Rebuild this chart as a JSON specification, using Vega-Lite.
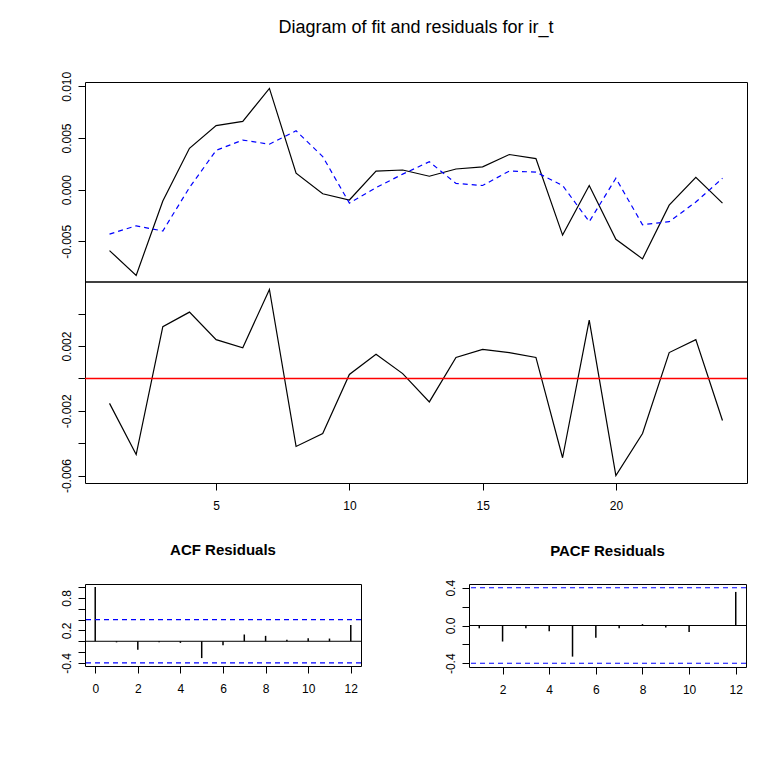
{
  "$schema": "https://vega.github.io/schema/vega-lite/v6.json",
  "background": "white",
  "padding": {"left": 59, "top": 18, "right": 19, "bottom": 5},
  "config": {
    "font": "Liberation Sans",
    "view": {"stroke": "black", "strokeWidth": 1},
    "axis": {"grid": false, "domain": false, "tickColor": "black", "tickSize": 7, "tickWidth": 1, "tickCount": 30, "labelColor": "black", "labelFontSize": 12, "labelFont": "Liberation Sans", "labelFlush": false, "labelOverlap": false, "labelBound": false},
    "axisY": {"labelAngle": -90, "labelAlign": "center", "labelBaseline": "bottom", "labelPadding": 5},
    "axisX": {"labelPadding": 10, "labelAngle": 0},
    "title": {"font": "Liberation Sans", "color": "black"}
  },
  "datasets": {
    "fit": [
      {"t": 1, "actual": -0.0059, "fitted": -0.0043, "resid": -0.00154},
      {"t": 2, "actual": -0.0083, "fitted": -0.0035, "resid": -0.0047},
      {"t": 3, "actual": -0.0011, "fitted": -0.0040, "resid": 0.0032},
      {"t": 4, "actual": 0.0040, "fitted": 0.0002, "resid": 0.0041},
      {"t": 5, "actual": 0.0062, "fitted": 0.0038, "resid": 0.0024},
      {"t": 6, "actual": 0.0066, "fitted": 0.0048, "resid": 0.0019},
      {"t": 7, "actual": 0.0098, "fitted": 0.0044, "resid": 0.0055},
      {"t": 8, "actual": 0.0016, "fitted": 0.0057, "resid": -0.0042},
      {"t": 9, "actual": -0.0004, "fitted": 0.0032, "resid": -0.0034},
      {"t": 10, "actual": -0.0010, "fitted": -0.0013, "resid": 0.00025},
      {"t": 11, "actual": 0.0018, "fitted": 0.0002, "resid": 0.0015},
      {"t": 12, "actual": 0.0019, "fitted": 0.0015, "resid": 0.0003},
      {"t": 13, "actual": 0.0013, "fitted": 0.0027, "resid": -0.00145},
      {"t": 14, "actual": 0.0020, "fitted": 0.0006, "resid": 0.0013},
      {"t": 15, "actual": 0.0022, "fitted": 0.0004, "resid": 0.0018},
      {"t": 16, "actual": 0.0034, "fitted": 0.0018, "resid": 0.0016},
      {"t": 17, "actual": 0.0030, "fitted": 0.0017, "resid": 0.0013},
      {"t": 18, "actual": -0.0044, "fitted": 0.0004, "resid": -0.0049},
      {"t": 19, "actual": 0.0004, "fitted": -0.0031, "resid": 0.0036},
      {"t": 20, "actual": -0.0048, "fitted": 0.0011, "resid": -0.0060},
      {"t": 21, "actual": -0.0067, "fitted": -0.0034, "resid": -0.0034},
      {"t": 22, "actual": -0.0015, "fitted": -0.0031, "resid": 0.0016},
      {"t": 23, "actual": 0.0012, "fitted": -0.0012, "resid": 0.0024},
      {"t": 24, "actual": -0.0013, "fitted": 0.0011, "resid": -0.0026}
    ],
    "acf": [
      {"lag": 0, "acf": 1.0},
      {"lag": 1, "acf": -0.02},
      {"lag": 2, "acf": -0.156},
      {"lag": 3, "acf": -0.02},
      {"lag": 4, "acf": -0.03},
      {"lag": 5, "acf": -0.31},
      {"lag": 6, "acf": -0.075},
      {"lag": 7, "acf": 0.125},
      {"lag": 8, "acf": 0.10},
      {"lag": 9, "acf": 0.03},
      {"lag": 10, "acf": 0.056},
      {"lag": 11, "acf": 0.05},
      {"lag": 12, "acf": 0.30}
    ],
    "pacf": [
      {"lag": 1, "pacf": -0.03},
      {"lag": 2, "pacf": -0.17},
      {"lag": 3, "pacf": -0.03},
      {"lag": 4, "pacf": -0.06},
      {"lag": 5, "pacf": -0.33},
      {"lag": 6, "pacf": -0.13},
      {"lag": 7, "pacf": -0.03},
      {"lag": 8, "pacf": 0.015},
      {"lag": 9, "pacf": -0.02},
      {"lag": 10, "pacf": -0.07},
      {"lag": 11, "pacf": 0.003},
      {"lag": 12, "pacf": 0.356}
    ],
    "zero": [{"h": 0}],
    "clim": [{"h": 0.4}, {"h": -0.4}]
  },
  "spacing": 30,
  "vconcat": [
    {
      "width": 662,
      "height": 401,
      "title": {"text": "Diagram of fit and residuals for ir_t", "fontSize": 18, "fontWeight": "normal", "anchor": "middle", "offset": 34},
      "resolve": {"scale": {"y": "independent"}, "axis": {"y": "independent"}},
      "layer": [
        {
          "layer": [
            {
              "data": {"name": "fit"},
              "mark": {"type": "line", "color": "black", "strokeWidth": 1.2},
              "encoding": {
                "x": {"field": "t", "type": "quantitative", "scale": {"domain": [0.08, 24.92], "nice": false, "zero": false},
                      "axis": {"title": null, "tickCount": 30, "labelOverlap": false, "values": [5, 10, 15, 20], "format": "d"}},
                "y": {"field": "actual", "type": "quantitative", "scale": {"domain": [-0.028397, 0.01042], "nice": false, "zero": false},
                      "axis": {"title": null, "orient": "left", "offset": 0, "tickCount": 30, "labelOverlap": false, "values": [-0.005, 0, 0.005, 0.01], "labelExpr": "replace(format(datum.value, '.3f'), '\u2212', '-')"}}
              }
            },
            {
              "data": {"name": "fit"},
              "mark": {"type": "line", "color": "#0000ff", "strokeWidth": 1.2, "strokeDash": [5, 4]},
              "encoding": {
                "x": {"field": "t", "type": "quantitative"},
                "y": {"field": "fitted", "type": "quantitative"}
              }
            },
            {
              "data": {"name": "zero"},
              "mark": {"type": "rule", "color": "black", "strokeWidth": 1.5},
              "encoding": {"y": {"datum": -0.00894, "type": "quantitative"}}
            }
          ]
        },
        {
          "layer": [
            {
              "data": {"name": "fit"},
              "mark": {"type": "line", "color": "black", "strokeWidth": 1.2},
              "encoding": {
                "x": {"field": "t", "type": "quantitative"},
                "y": {"field": "resid", "type": "quantitative", "scale": {"domain": [-0.00646, 0.018318], "nice": false, "zero": false},
                      "axis": {"title": null, "orient": "left", "offset": 0, "tickCount": 30, "labelOverlap": false, "values": [-0.006, -0.004, -0.002, 0, 0.002, 0.004],
                               "labelExpr": "(round(datum.value*1000) == -6 || round(datum.value*1000) == -2 || round(datum.value*1000) == 2) ? replace(format(datum.value, '.3f'), '\u2212', '-') : ''"}}
              }
            },
            {
              "data": {"name": "zero"},
              "mark": {"type": "rule", "color": "#ff0000", "strokeWidth": 1.5},
              "encoding": {"y": {"field": "h", "type": "quantitative"}}
            }
          ]
        }
      ]
    },
    {
      "spacing": 80,
      "hconcat": [
        {
          "width": 276,
          "height": 82,
          "title": {"text": "ACF Residuals", "fontSize": 15, "fontWeight": "bold", "anchor": "middle", "offset": 26},
          "layer": [
            {
              "data": {"name": "acf"},
              "mark": {"type": "rule", "color": "black", "strokeWidth": 1.5},
              "encoding": {
                "x": {"field": "lag", "type": "quantitative", "scale": {"domain": [-0.48, 12.48], "nice": false, "zero": false},
                      "axis": {"title": null, "tickCount": 30, "labelOverlap": false, "values": [0, 2, 4, 6, 8, 10, 12], "format": "d"}},
                "y": {"field": "acf", "type": "quantitative", "scale": {"domain": [-0.456, 1.056], "nice": false, "zero": false},
                      "axis": {"title": null, "tickCount": 30, "labelOverlap": false, "values": [-0.4, -0.2, 0, 0.2, 0.4, 0.6, 0.8, 1.0],
                               "labelExpr": "(round(datum.value*10) == -4 || round(datum.value*10) == 2 || round(datum.value*10) == 8) ? replace(format(datum.value, '.1f'), '\u2212', '-') : ''"}},
                "y2": {"datum": 0}
              }
            },
            {
              "data": {"name": "zero"},
              "mark": {"type": "rule", "color": "black", "strokeWidth": 1},
              "encoding": {"y": {"field": "h", "type": "quantitative"}}
            },
            {
              "data": {"name": "clim"},
              "mark": {"type": "rule", "color": "#0000ff", "strokeWidth": 1.2, "strokeDash": [5, 4]},
              "encoding": {"y": {"field": "h", "type": "quantitative"}}
            }
          ]
        },
        {
          "width": 277,
          "height": 83,
          "title": {"text": "PACF Residuals", "fontSize": 15, "fontWeight": "bold", "anchor": "middle", "offset": 20},
          "layer": [
            {
              "data": {"name": "pacf"},
              "mark": {"type": "rule", "color": "black", "strokeWidth": 1.5},
              "encoding": {
                "x": {"field": "lag", "type": "quantitative", "scale": {"domain": [0.56, 12.44], "nice": false, "zero": false},
                      "axis": {"title": null, "tickCount": 30, "labelOverlap": false, "values": [2, 4, 6, 8, 10, 12], "format": "d"}},
                "y": {"field": "pacf", "type": "quantitative", "scale": {"domain": [-0.44, 0.44], "nice": false, "zero": false},
                      "axis": {"title": null, "tickCount": 30, "labelOverlap": false, "values": [-0.4, -0.2, 0, 0.2, 0.4],
                               "labelExpr": "(round(datum.value*10) == -4 || round(datum.value*10) == 0 || round(datum.value*10) == 4) ? replace(format(datum.value, '.1f'), '\u2212', '-') : ''"}},
                "y2": {"datum": 0}
              }
            },
            {
              "data": {"name": "zero"},
              "mark": {"type": "rule", "color": "black", "strokeWidth": 1},
              "encoding": {"y": {"field": "h", "type": "quantitative"}}
            },
            {
              "data": {"name": "clim"},
              "mark": {"type": "rule", "color": "#0000ff", "strokeWidth": 1.2, "strokeDash": [5, 4]},
              "encoding": {"y": {"field": "h", "type": "quantitative"}}
            }
          ]
        }
      ]
    }
  ]
}
